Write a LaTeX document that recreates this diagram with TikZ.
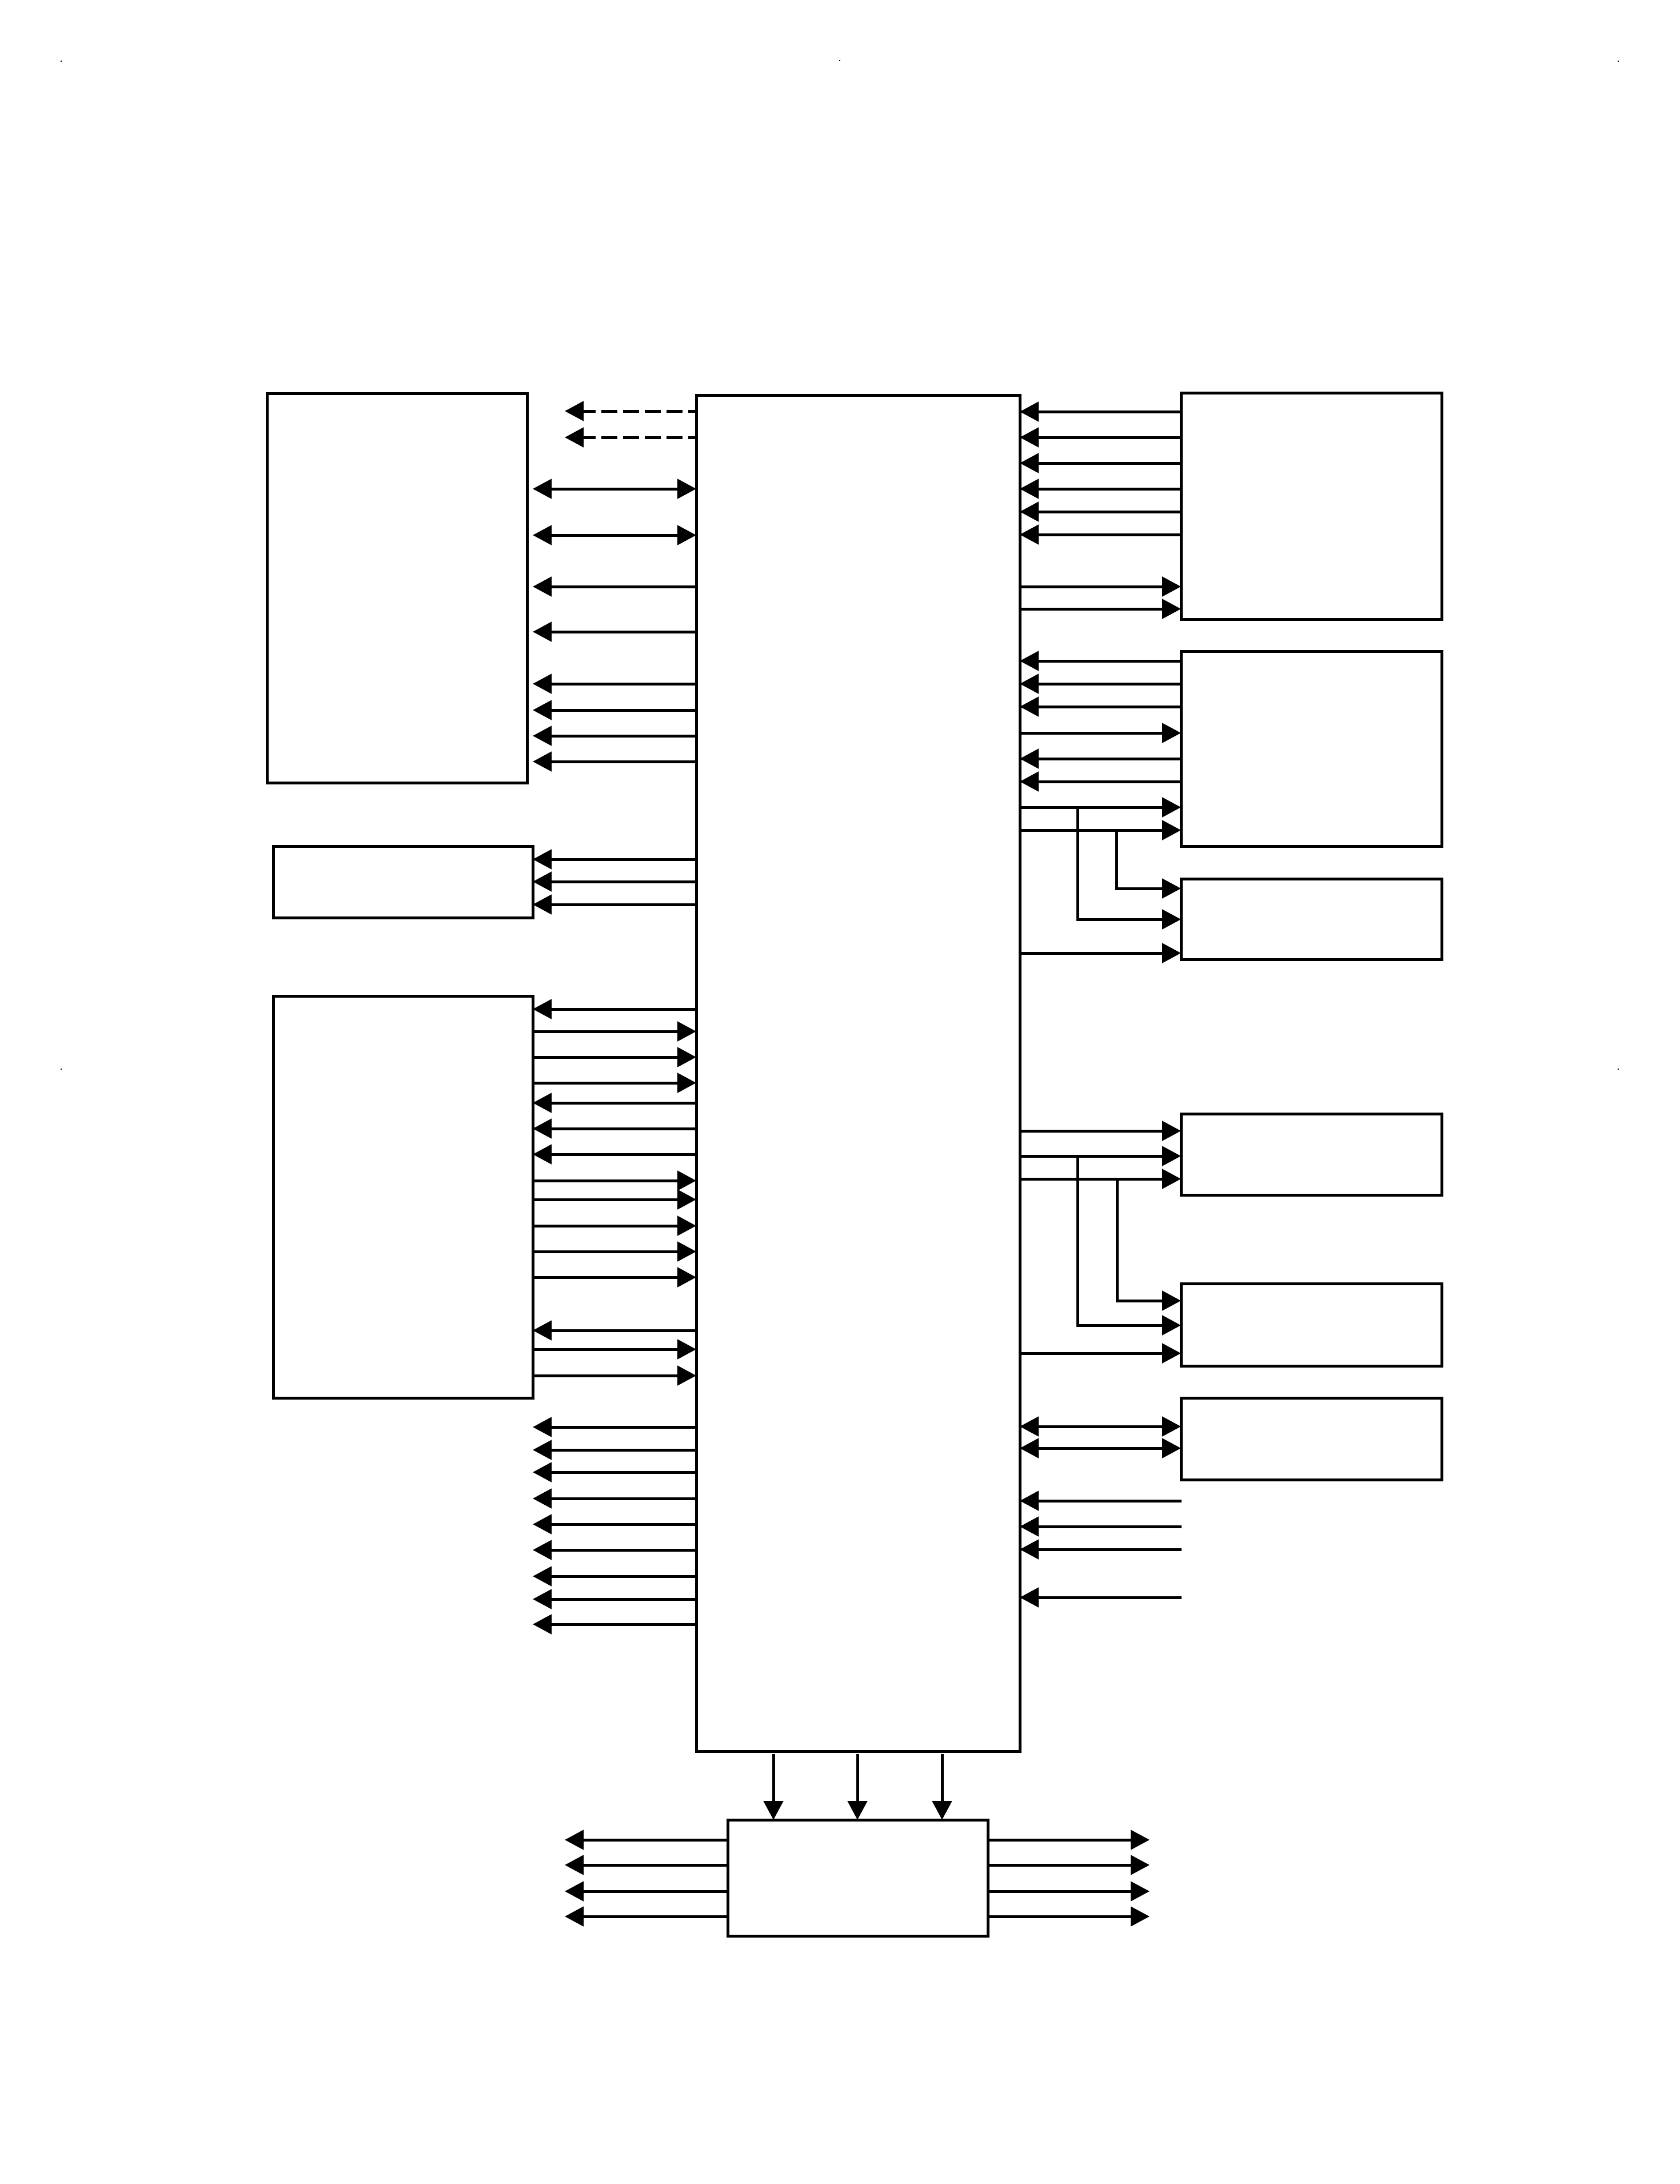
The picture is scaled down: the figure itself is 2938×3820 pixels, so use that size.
\documentclass[tikz,border=0pt]{standalone}
\usetikzlibrary{arrows.meta,fit}

\begin{document}
\begin{tikzpicture}[x=0.01cm, y=-0.01cm,
  >={Triangle[length=0.33cm,width=0.34cm]},
  block/.style={draw, rectangle, inner sep=0pt, outer sep=0pt, line width=0.05cm},
  link/.style={line width=0.05cm},
  pagemark/.style={fill, rectangle, inner sep=0pt, minimum size=0.025cm}]
  \useasboundingbox (0,0) rectangle (2938,3820);

  % Blocks
  \node[block, fit={(1218,691) (1784,3063)}] (main) {};
  \node[block, fit={(467,688) (922,1369)}] (memory) {};
  \node[block, fit={(478,1480) (932,1605)}] (clock) {};
  \node[block, fit={(478,1742) (932,2445)}] (port) {};
  \node[block, fit={(2066,687) (2522,1083)}] (rtop) {};
  \node[block, fit={(2066,1139) (2522,1480)}] (rmid) {};
  \node[block, fit={(2066,1537) (2522,1678)}] (rlow) {};
  \node[block, fit={(2066,1948) (2522,2090)}] (dataa) {};
  \node[block, fit={(2066,2245) (2522,2389)}] (datab) {};
  \node[block, fit={(2066,2445) (2522,2588)}] (datac) {};
  \node[block, fit={(1273,3183) (1728,3386)}] (driver) {};

  % Free ends
  \coordinate (bus) at (932,0);
  \coordinate (dashend) at (988,0);
  \coordinate (inend) at (2067,0);
  \coordinate (outl) at (988,0);
  \coordinate (outr) at (2011,0);
  \coordinate (tapa) at (1885,1412);
  \coordinate (tapb) at (1953,1452);
  \coordinate (tapc) at (1885,2022);
  \coordinate (tapd) at (1954,2062);

  % Edges, left of main
  \draw[link, ->, dash pattern=on 0.28cm off 0.1cm, dash phase=0.14cm] (main.west |- 0,719) -- (dashend |- 0,719);
  \draw[link, ->, dash pattern=on 0.28cm off 0.1cm, dash phase=0.14cm] (main.west |- 0,765) -- (dashend |- 0,765);
  \draw[link, <->] (main.west |- 0,855) -- (bus |- 0,855);
  \draw[link, <->] (main.west |- 0,936) -- (bus |- 0,936);
  \draw[link, ->] (main.west |- 0,1026) -- (bus |- 0,1026);
  \draw[link, ->] (main.west |- 0,1105) -- (bus |- 0,1105);
  \draw[link, ->] (main.west |- 0,1196) -- (bus |- 0,1196);
  \draw[link, ->] (main.west |- 0,1242) -- (bus |- 0,1242);
  \draw[link, ->] (main.west |- 0,1287) -- (bus |- 0,1287);
  \draw[link, ->] (main.west |- 0,1332) -- (bus |- 0,1332);

  \draw[link, ->] (main.west |- 0,1503) -- (clock.east |- 0,1503);
  \draw[link, ->] (main.west |- 0,1542) -- (clock.east |- 0,1542);
  \draw[link, ->] (main.west |- 0,1582) -- (clock.east |- 0,1582);

  \draw[link, ->] (main.west |- 0,1765) -- (port.east |- 0,1765);
  \draw[link, <-] (main.west |- 0,1804) -- (port.east |- 0,1804);
  \draw[link, <-] (main.west |- 0,1849) -- (port.east |- 0,1849);
  \draw[link, <-] (main.west |- 0,1894) -- (port.east |- 0,1894);
  \draw[link, ->] (main.west |- 0,1929) -- (port.east |- 0,1929);
  \draw[link, ->] (main.west |- 0,1974) -- (port.east |- 0,1974);
  \draw[link, ->] (main.west |- 0,2019) -- (port.east |- 0,2019);
  \draw[link, <-] (main.west |- 0,2065) -- (port.east |- 0,2065);
  \draw[link, <-] (main.west |- 0,2098) -- (port.east |- 0,2098);
  \draw[link, <-] (main.west |- 0,2144) -- (port.east |- 0,2144);
  \draw[link, <-] (main.west |- 0,2189) -- (port.east |- 0,2189);
  \draw[link, <-] (main.west |- 0,2234) -- (port.east |- 0,2234);
  \draw[link, ->] (main.west |- 0,2327) -- (port.east |- 0,2327);
  \draw[link, <-] (main.west |- 0,2360) -- (port.east |- 0,2360);
  \draw[link, <-] (main.west |- 0,2406) -- (port.east |- 0,2406);

  \draw[link, ->] (main.west |- 0,2496) -- (bus |- 0,2496);
  \draw[link, ->] (main.west |- 0,2536) -- (bus |- 0,2536);
  \draw[link, ->] (main.west |- 0,2575) -- (bus |- 0,2575);
  \draw[link, ->] (main.west |- 0,2621) -- (bus |- 0,2621);
  \draw[link, ->] (main.west |- 0,2666) -- (bus |- 0,2666);
  \draw[link, ->] (main.west |- 0,2711) -- (bus |- 0,2711);
  \draw[link, ->] (main.west |- 0,2757) -- (bus |- 0,2757);
  \draw[link, ->] (main.west |- 0,2797) -- (bus |- 0,2797);
  \draw[link, ->] (main.west |- 0,2841) -- (bus |- 0,2841);

  % Edges, right of main
  \draw[link, <-] (main.east |- 0,720) -- (rtop.west |- 0,720);
  \draw[link, <-] (main.east |- 0,765) -- (rtop.west |- 0,765);
  \draw[link, <-] (main.east |- 0,810) -- (rtop.west |- 0,810);
  \draw[link, <-] (main.east |- 0,855) -- (rtop.west |- 0,855);
  \draw[link, <-] (main.east |- 0,895) -- (rtop.west |- 0,895);
  \draw[link, <-] (main.east |- 0,935) -- (rtop.west |- 0,935);
  \draw[link, ->] (main.east |- 0,1026) -- (rtop.west |- 0,1026);
  \draw[link, ->] (main.east |- 0,1065) -- (rtop.west |- 0,1065);

  \draw[link, <-] (main.east |- 0,1156) -- (rmid.west |- 0,1156);
  \draw[link, <-] (main.east |- 0,1196) -- (rmid.west |- 0,1196);
  \draw[link, <-] (main.east |- 0,1236) -- (rmid.west |- 0,1236);
  \draw[link, ->] (main.east |- 0,1282) -- (rmid.west |- 0,1282);
  \draw[link, <-] (main.east |- 0,1327) -- (rmid.west |- 0,1327);
  \draw[link, <-] (main.east |- 0,1367) -- (rmid.west |- 0,1367);
  \draw[link, ->] (main.east |- 0,1412) -- (rmid.west |- 0,1412);
  \draw[link, ->] (main.east |- 0,1452) -- (rmid.west |- 0,1452);
  \draw[link, ->] (tapb) |- (rlow.west |- 0,1554);
  \draw[link, ->] (tapa) |- (rlow.west |- 0,1608);
  \draw[link, ->] (main.east |- 0,1667) -- (rlow.west |- 0,1667);

  \draw[link, ->] (main.east |- 0,1978) -- (dataa.west |- 0,1978);
  \draw[link, ->] (main.east |- 0,2022) -- (dataa.west |- 0,2022);
  \draw[link, ->] (main.east |- 0,2062) -- (dataa.west |- 0,2062);
  \draw[link, ->] (tapd) |- (datab.west |- 0,2275);
  \draw[link, ->] (tapc) |- (datab.west |- 0,2318);
  \draw[link, ->] (main.east |- 0,2367) -- (datab.west |- 0,2367);

  \draw[link, <->] (main.east |- 0,2495) -- (datac.west |- 0,2495);
  \draw[link, <->] (main.east |- 0,2533) -- (datac.west |- 0,2533);

  \draw[link, <-] (main.east |- 0,2625) -- (inend |- 0,2625);
  \draw[link, <-] (main.east |- 0,2670) -- (inend |- 0,2670);
  \draw[link, <-] (main.east |- 0,2710) -- (inend |- 0,2710);
  \draw[link, <-] (main.east |- 0,2794) -- (inend |- 0,2794);

  % Edges, below main
  \draw[link, ->] ([yshift=-0.05cm]main.south -| 1353,0) -- (driver.north -| 1353,0);
  \draw[link, ->] ([yshift=-0.05cm]main.south -| 1500,0) -- (driver.north -| 1500,0);
  \draw[link, ->] ([yshift=-0.05cm]main.south -| 1648,0) -- (driver.north -| 1648,0);

  \draw[link, ->] (driver.west |- 0,3218) -- (outl |- 0,3218);
  \draw[link, ->] (driver.west |- 0,3262) -- (outl |- 0,3262);
  \draw[link, ->] (driver.west |- 0,3308) -- (outl |- 0,3308);
  \draw[link, ->] (driver.west |- 0,3352) -- (outl |- 0,3352);
  \draw[link, ->] (driver.east |- 0,3218) -- (outr |- 0,3218);
  \draw[link, ->] (driver.east |- 0,3262) -- (outr |- 0,3262);
  \draw[link, ->] (driver.east |- 0,3308) -- (outr |- 0,3308);
  \draw[link, ->] (driver.east |- 0,3352) -- (outr |- 0,3352);

  % Page marks
  \node[pagemark] (marka) at (107,107) {};
  \node[pagemark] (markb) at (1469,106) {};
  \node[pagemark] (markc) at (2831,107) {};
  \node[pagemark] (markd) at (107,1870) {};
  \node[pagemark] (marke) at (2831,1870) {};
\end{tikzpicture}
\end{document}
